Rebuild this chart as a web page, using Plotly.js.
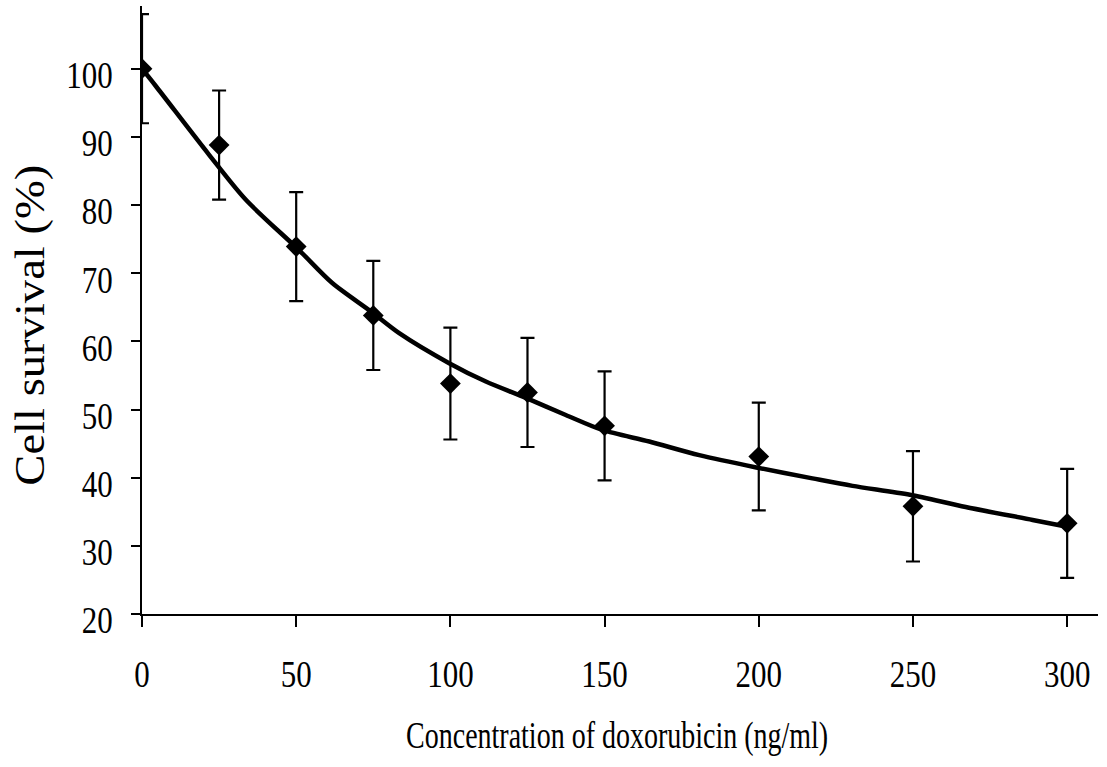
<!DOCTYPE html>
<html>
<head>
<meta charset="utf-8">
<script src="https://cdn.plot.ly/plotly-3.0.1.min.js"></script>
<style>
  html, body { margin: 0; padding: 0; background: #ffffff; }
  #chart { width: 1107px; height: 767px; }
</style>
</head>
<body>
<div id="chart"></div>
<script>
// Doxorubicin concentrations (ng/ml) and mean cell survival (%) with SD
const doses = [0, 25, 50, 75, 100, 125, 150, 200, 250, 300];
const survival = [100, 88.8, 73.9, 63.8, 53.8, 52.5, 47.6, 43.1, 35.8, 33.3];
const survivalSD = [8, 8, 8, 8, 8.2, 8, 8, 7.9, 8.1, 8];

// Fitted dose-response curve, sampled along its length
const fitDose = [0, 4.4, 21.7, 33.6, 50.9, 61.6, 74.2, 83.4, 99.6, 111.5, 124.5, 137.4, 149.3, 164.5, 180.7, 199.2, 217.4, 230.4, 249, 267.1, 288.8, 300];
const fitSurvival = [100, 97.5, 87.4, 80.8, 73.4, 68.6, 64.4, 61.2, 56.8, 54.1, 51.7, 49.2, 47.0, 45.3, 43.3, 41.5, 39.9, 38.8, 37.5, 35.7, 33.8, 32.8];

// Axis ticks and titles
const xTicks = [0, 50, 100, 150, 200, 250, 300];
const yTicks = [20, 30, 40, 50, 60, 70, 80, 90, 100];
const xTitle = 'Concentration of doxorubicin (ng/ml)';
const yTitle = 'Cell survival (%)';

const serif = 'Liberation Serif, Times New Roman, serif';

const traces = [
  {
    x: fitDose,
    y: fitSurvival,
    type: 'scatter',
    mode: 'lines',
    line: { color: '#000000', width: 4.5, shape: 'spline', smoothing: 0.8 },
    hoverinfo: 'skip',
    showlegend: false
  },
  {
    x: doses,
    y: survival,
    type: 'scatter',
    mode: 'markers',
    marker: { symbol: 'diamond', size: 16, color: '#000000' },
    error_y: {
      type: 'data',
      array: survivalSD,
      visible: true,
      color: '#000000',
      thickness: 2.2,
      width: 7
    },
    showlegend: false
  }
];

const layout = {
  width: 1107,
  height: 767,
  margin: { l: 142, r: 9, t: 6, b: 153 },
  paper_bgcolor: '#ffffff',
  plot_bgcolor: '#ffffff',
  font: { family: serif, color: '#000000' },
  showlegend: false,
  xaxis: {
    range: [0, 310],
    tickmode: 'array',
    tickvals: xTicks,
    ticktext: xTicks.map(String),
    ticks: 'outside',
    ticklen: 11,
    tickwidth: 2,
    tickcolor: '#000000',
    showline: true,
    linecolor: '#000000',
    linewidth: 2,
    showgrid: false,
    zeroline: false,
    ticklabelstandoff: 20,
    tickfont: { family: serif, size: 31, color: '#000000' }
  },
  yaxis: {
    range: [20, 109.2],
    tickmode: 'array',
    tickvals: yTicks,
    ticktext: yTicks.map(String),
    ticks: 'outside',
    ticklen: 9,
    tickwidth: 2,
    tickcolor: '#000000',
    showline: true,
    linecolor: '#000000',
    linewidth: 2,
    showgrid: false,
    zeroline: false,
    ticklabelstandoff: 12,
    tickfont: { family: serif, size: 31, color: '#000000' }
  },
  annotations: [
    {
      text: xTitle,
      xref: 'paper', yref: 'paper',
      x: 0.497, y: -0.2, xanchor: 'center', yanchor: 'middle',
      showarrow: false,
      font: { family: serif, size: 28, color: '#000000' }
    },
    {
      text: yTitle,
      xref: 'paper', yref: 'paper',
      x: 0, y: 0.474, xanchor: 'center', yanchor: 'middle',
      xshift: -111,
      textangle: -90,
      showarrow: false,
      font: { family: serif, size: 42, color: '#000000' }
    }
  ]
};

// Reshape serif lettering: scale text about its own centre, then shift it
function stretchText(nodes, sx, sy, dy) {
  nodes.forEach(function (el) {
    const bb = el.getBBox();
    const cx = bb.x + bb.width / 2;
    const cy = bb.y + bb.height / 2;
    const t = el.getAttribute('transform') || '';
    el.setAttribute('transform',
      t + ' translate(0,' + dy + ') translate(' + cx + ',' + cy + ') scale(' + sx + ',' + sy + ') translate(' + (-cx) + ',' + (-cy) + ')');
  });
}

Plotly.newPlot('chart', traces, layout, { displayModeBar: false, staticPlot: true }).then(function (gd) {
  stretchText(gd.querySelectorAll('.xtick text'), 1, 1.24, 0);
  stretchText(gd.querySelectorAll('.ytick text'), 1, 1.24, 6);
  stretchText(gd.querySelectorAll('.annotation[data-index="0"] text'), 1, 1.35, 0);
  stretchText(gd.querySelectorAll('.annotation[data-index="1"] text'), 1.11, 1, 0);
});
</script>
</body>
</html>
